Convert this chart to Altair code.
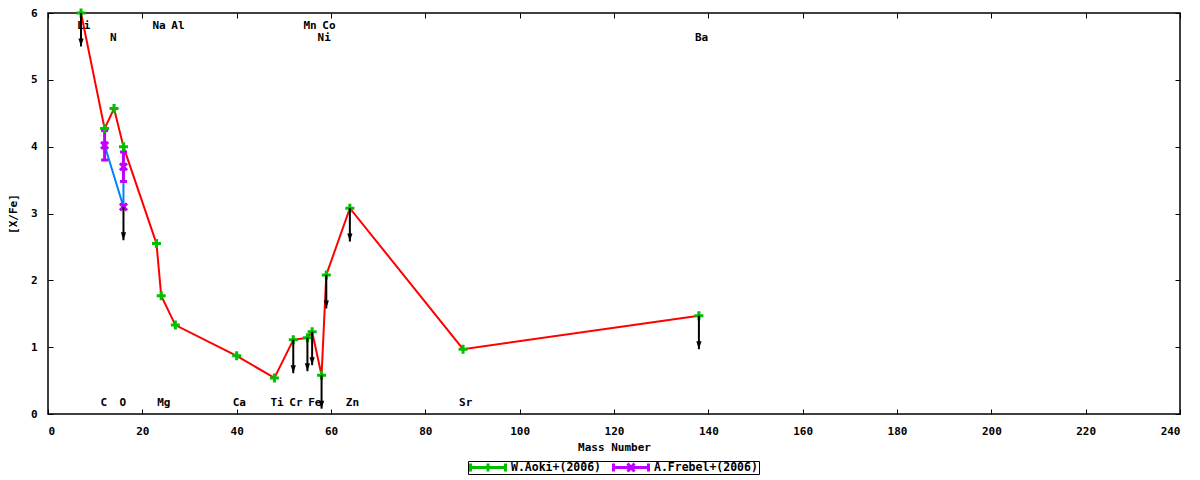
import altair as alt
import pandas as pd

# ---------------- data ----------------
series_names = ["W.Aoki+(2006)", "A.Frebel+(2006)"]

aoki_elem = ["Li", "C", "N", "O", "Na", "Mg", "Al", "Ca", "Ti", "Cr", "Mn", "Fe", "Ni", "Co", "Zn", "Sr", "Ba"]
aoki_mass = [7, 12, 14, 16, 23, 24, 27, 40, 48, 52, 55, 56, 58, 59, 64, 88, 138]
aoki_val = [6.00, 4.27, 4.57, 4.00, 2.55, 1.77, 1.33, 0.87, 0.54, 1.11, 1.14, 1.23, 0.58, 2.08, 3.08, 0.97, 1.47]
aoki_ul = [1, 0, 0, 0, 0, 0, 0, 0, 0, 1, 1, 1, 1, 1, 1, 0, 1]

frebel_elem = ["C", "O", "O"]
frebel_mass = [12, 16, 16]
frebel_val = [4.02, 3.10, 3.70]
frebel_err = [0.22, 0.0, 0.22]
frebel_ul = [0, 1, 0]

label_text = ["Li", "N", "Na", "Al", "Mn", "Co", "Ni", "Ba",
              "C", "O", "Mg", "Ca", "Ti", "Cr", "Fe", "Zn", "Sr"]
label_mass = [7, 14, 23, 27, 55, 59, 58, 138,
              12, 16, 24, 40, 48, 52, 56, 64, 88]
label_row = [5.81, 5.63, 5.81, 5.81, 5.81, 5.81, 5.63, 5.63,
             0.16, 0.16, 0.16, 0.16, 0.16, 0.16, 0.16, 0.16, 0.16]

x_ticks = list(range(0, 241, 20))
y_ticks = [0, 1, 2, 3, 4, 5, 6]
arrow_len = 0.5

# ---------------- tables ----------------
aoki = pd.DataFrame({"elem": aoki_elem, "mass": aoki_mass, "val": aoki_val,
                     "ul": aoki_ul, "series": series_names[0]})
aoki["idx"] = range(len(aoki))
frebel = pd.DataFrame({"elem": frebel_elem, "mass": frebel_mass, "val": frebel_val,
                       "err": frebel_err, "ul": frebel_ul, "series": series_names[1]})
frebel["idx"] = range(len(frebel))
frebel["lo"] = frebel["val"] - frebel["err"]
frebel["hi"] = frebel["val"] + frebel["err"]
errs = frebel[frebel["err"] > 0]
caps = pd.concat([errs.assign(cap=errs["lo"]), errs.assign(cap=errs["hi"])])

pts = pd.concat([aoki, frebel], ignore_index=True)
ul = pts[pts["ul"] == 1].copy()
ul["tip"] = ul["val"] - arrow_len

labels = pd.DataFrame({"text": label_text, "mass": label_mass, "row": label_row})

# ---------------- styling ----------------
FONT = "DejaVu Sans Mono"
RED, GREEN, BLUE, MAGENTA = "#ff0000", "#00c000", "#0080ff", "#c000ff"
W, H = 1132, 401

xscale = alt.Scale(domain=[0, 240], nice=False, zero=False)
yscale = alt.Scale(domain=[0, 6], nice=False, zero=False)
xaxis = alt.Axis(values=x_ticks, ticks=False, domain=False, grid=True, gridColor="black",
                 gridOpacity=1, gridWidth=1, gridDash=[5, H - 10, 5, 2000],
                 labelFont=FONT, labelFontSize=11, labelFontWeight="bold", labelColor="black",
                 labelPadding=11, titleFont=FONT, titleFontSize=11, titleFontWeight="bold",
                 titleColor="black", titlePadding=5)
yaxis = alt.Axis(values=y_ticks, ticks=False, domain=False, grid=True, gridColor="black",
                 gridOpacity=1, gridWidth=1, gridDash=[5, W - 10, 5, 3000],
                 labelFont=FONT, labelFontSize=11, labelFontWeight="bold", labelColor="black",
                 labelPadding=11, titleFont=FONT, titleFontSize=11, titleFontWeight="bold",
                 titleColor="black", titlePadding=12)


def X(field="mass"):
    return alt.X(f"{field}:Q", scale=xscale, axis=xaxis, title="Mass Number")


def Y(field):
    return alt.Y(f"{field}:Q", scale=yscale, axis=yaxis, title="[X/Fe]")


red_line = alt.Chart(aoki).mark_line(color=RED, strokeWidth=2).encode(
    x=X(), y=Y("val"), order="idx:Q")
blue_line = alt.Chart(frebel).mark_line(color=BLUE, strokeWidth=2).encode(
    x=X(), y=Y("val"), order="idx:Q")

err_rule = alt.Chart(errs).mark_rule(color=MAGENTA, strokeWidth=3).encode(
    x=X(), y=Y("lo"), y2="hi:Q")
err_cap = alt.Chart(caps).mark_tick(color=MAGENTA, orient="horizontal", size=7,
                                    thickness=3, opacity=1).encode(x=X(), y=Y("cap"))

PLUS = "M-1,0L1,0M0,-1L0,1"
XSYM = "M-1,-1L1,1M-1,1L1,-1"
magenta_pts = alt.Chart(frebel).mark_point(shape=XSYM, size=49, strokeWidth=3, color=MAGENTA,
                                           filled=False, opacity=1).encode(x=X(), y=Y("val"))
green_pts = alt.Chart(aoki).mark_point(shape=PLUS, size=81, strokeWidth=3, color=GREEN,
                                       filled=False, opacity=1).encode(x=X(), y=Y("val"))

arrow_stem = alt.Chart(ul).mark_rule(color="black", strokeWidth=2).encode(
    x=X(), y=Y("val"), y2="tip:Q")
arrow_head = alt.Chart(ul).mark_point(shape="M-0.65,-1L0.65,-1L0,1Z", size=64, filled=True,
                                      color="black", opacity=1).encode(
    x=X(), y=Y("tip"), yOffset=alt.value(-4))

# legend with error-bar style symbols
LEG_FS = 11.5
LEG_AOKI = "M-1,0L1,0M-1,-0.23L-1,0.23M1,-0.23L1,0.23M0,-0.23L0,0.23"
LEG_FREBEL = "M-1,0L1,0M-1,-0.23L-1,0.23M1,-0.23L1,0.23M-0.2,-0.23L0.2,0.23M-0.2,0.23L0.2,-0.23"
legend = alt.Legend(orient="none", legendX=420, legendY=448, direction="horizontal", title=None,
                    labelFont=FONT, labelFontSize=LEG_FS, labelFontWeight="bold", labelColor="black",
                    symbolSize=1225, symbolStrokeWidth=3, symbolOpacity=1,
                    clipHeight=11, columnPadding=10,
                    strokeColor="black", padding=1, fillColor="white")

legend_layer = alt.Chart(pts).mark_point(opacity=0, filled=False, strokeWidth=3).encode(
    x=X(), y=Y("val"),
    color=alt.Color("series:N", scale=alt.Scale(domain=series_names, range=[GREEN, MAGENTA]),
                    legend=legend),
    shape=alt.Shape("series:N", scale=alt.Scale(domain=series_names, range=[LEG_AOKI, LEG_FREBEL]),
                    legend=legend),
)

elem_labels = alt.Chart(labels).mark_text(font=FONT, fontSize=11, fontWeight="bold", color="black",
                                          align="left", baseline="middle", dx=-4).encode(
    x=X(), y=Y("row"), text="text:N")

chart = alt.layer(
    red_line, blue_line, err_rule, err_cap, magenta_pts, green_pts,
    arrow_stem, arrow_head, elem_labels, legend_layer
).properties(
    width=W, height=H,
    padding={"left": 40, "top": 5, "right": 12, "bottom": 66},
    autosize=alt.AutoSizeParams(type="none"),
    background="white",
).configure_view(stroke="black", strokeWidth=1.5)

chart.save("out.html", embed_options={"renderer": "svg", "actions": False})
